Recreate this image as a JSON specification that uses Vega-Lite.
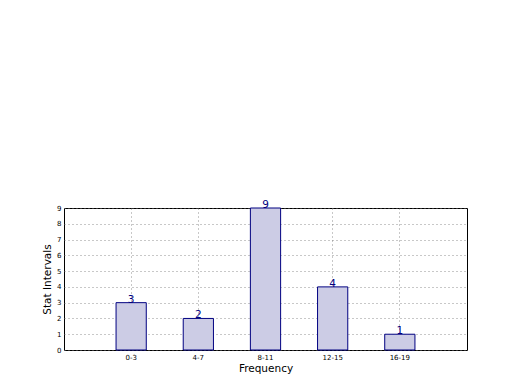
{
  "$schema": "https://vega.github.io/schema/vega-lite/v6.json",
  "autosize": {"type": "none"},
  "width": 403,
  "height": 142,
  "padding": {"left": 64, "top": 208, "right": 53, "bottom": 40},
  "background": "white",
  "config": {
    "view": {"stroke": "black", "strokeWidth": 1},
    "font": "DejaVu Sans",
    "axis": {
      "labelFont": "DejaVu Sans",
      "titleFont": "DejaVu Sans",
      "labelFontSize": 7,
      "labelColor": "black",
      "titleFontSize": 10.5,
      "titleFontWeight": "normal",
      "titleColor": "black",
      "domain": false,
      "ticks": false,
      "grid": true,
      "gridColor": "#777777",
      "gridDash": [1, 3],
      "gridWidth": 1,
      "gridOpacity": 0.8
    }
  },
  "data": {
    "values": [
      {"interval": "0-3", "count": 3},
      {"interval": "4-7", "count": 2},
      {"interval": "8-11", "count": 9},
      {"interval": "12-15", "count": 4},
      {"interval": "16-19", "count": 1}
    ]
  },
  "encoding": {
    "x": {
      "field": "interval",
      "type": "ordinal",
      "sort": null,
      "scale": {"paddingInner": 0.55, "paddingOuter": 0.775},
      "axis": {"title": "Frequency", "labelAngle": 0, "labelPadding": 3, "titlePadding": 3, "bandPosition": 0.5}
    },
    "y": {
      "field": "count",
      "type": "quantitative",
      "scale": {"domain": [0, 9], "nice": false},
      "axis": {"title": "Stat Intervals", "values": [0,1,2,3,4,5,6,7,8,9], "labelPadding": 3, "titlePadding": 4}
    }
  },
  "layer": [
    {
      "mark": {"type": "bar", "fill": "#ccccE5", "stroke": "#000080", "strokeWidth": 1}
    },
    {
      "mark": {"type": "text", "color": "#000080", "baseline": "bottom", "fontSize": 10.5, "dy": 2},
      "encoding": {"text": {"field": "count", "type": "quantitative"}}
    }
  ]
}
